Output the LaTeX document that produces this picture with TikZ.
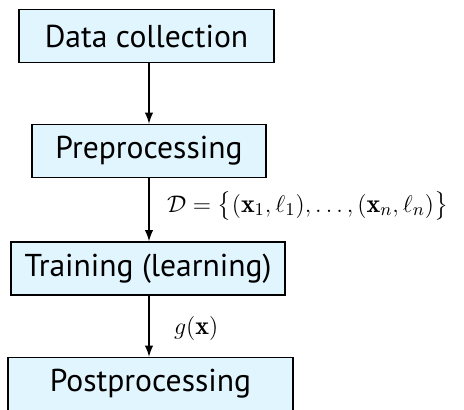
\documentclass[tikz,border=0pt]{standalone}
\usepackage{amsmath}
\usepackage{fontspec}
\setsansfont[Ligatures=NoCommon]{PT Sans}
\usepackage{tikz}
\usetikzlibrary{arrows}

\definecolor{boxblue}{RGB}{225,245,254}

\begin{document}
\begin{tikzpicture}[x=0.5pt, y=-0.5pt]
		\tikzstyle{Stage}	= [rectangle, draw, line width=0.8pt, fill=boxblue, font=\sffamily\fontsize{15.8}{19}\selectfont, minimum height=26.5pt, inner xsep=2pt]
		\tikzstyle{Flow}	= [->, >=latex, line width=0.9pt]
		\tikzstyle{Lbl}		= [anchor=west, font=\fontsize{13}{15}\selectfont]

		\useasboundingbox (0,0) rectangle (464,409);

		\node (collect) at (146.5, 36) [Stage, minimum width=127.5pt] {Data collection};
		\node (prep) at (149, 151) [Stage, minimum width=117pt] {Preprocessing};
		\node (train) at (148, 268.5) [Stage, minimum width=137pt] {Training (learning)};
		\node (post) at (150.5, 384) [Stage, minimum width=142.5pt] {Postprocessing};

		\draw (collect.south -| 149,0) to (prep.north -| 149,0) [Flow];
		\draw (prep.south -| 149,0) to (train.north -| 149,0) [Flow];
		\draw (train.south -| 149,0) to (post.north -| 149,0) [Flow];

		\node (data) at (160, 206) [Lbl] {$\mathcal{D} = \big\{(\mathbf{x}_1,\ell_1),\ldots,(\mathbf{x}_n,\ell_n)\big\}$};
		\node (model) at (167, 328) [Lbl] {$g(\mathbf{x})$};
	\end{tikzpicture}
\end{document}
